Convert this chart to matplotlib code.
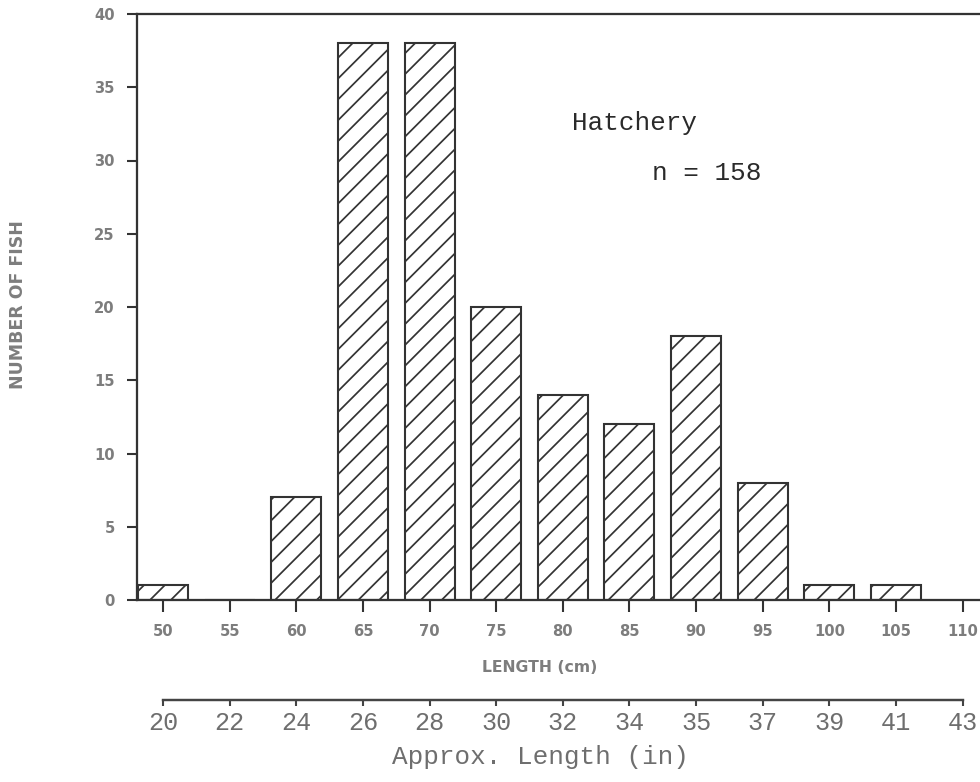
import matplotlib
matplotlib.use('Agg')
import matplotlib.pyplot as plt

# ---- data ----
length_cm = [50, 55, 60, 65, 70, 75, 80, 85, 90, 95, 100, 105]
counts = [1, 0, 7, 38, 38, 20, 14, 12, 18, 8, 1, 1]
cm_ticks = [50, 55, 60, 65, 70, 75, 80, 85, 90, 95, 100, 105, 110]
cm_tick_labels = [str(v) for v in cm_ticks]
inch_labels = ['20', '22', '24', '26', '28', '30', '32', '34', '35', '37', '39', '41', '43']
y_ticks = [0, 5, 10, 15, 20, 25, 30, 35, 40]

# ---- figure geometry (pixels) ----
W, H, DPI = 980, 782, 125
fig = plt.figure(figsize=(W / DPI, H / DPI), dpi=DPI)
plt.rcParams['hatch.linewidth'] = 1.0


def fx(px):
    return px / W


def fy(py):
    return 1 - py / H


AX_L, AX_R, AX_T, AX_B = 137, 980, 14, 600
ax = fig.add_axes([fx(AX_L), fy(AX_B), fx(AX_R) - fx(AX_L), fy(AX_T) - fy(AX_B)])

edge = '#333333'
gray = '#7d7d7d'

ax.bar(length_cm, counts, width=3.75, color='white', edgecolor=edge,
       hatch='//', linewidth=1.2, zorder=2)

ax.set_xlim(48.05, 111.3)
ax.set_ylim(0, 40)
ax.set_xticks(cm_ticks)
ax.set_xticklabels(cm_tick_labels)
ax.set_yticks(y_ticks)

for s in ['left', 'bottom', 'top']:
    ax.spines[s].set_color(edge)
    ax.spines[s].set_linewidth(1.3)
ax.spines['right'].set_visible(False)

ax.tick_params(axis='y', direction='out', length=5.8, width=1.2, color=edge,
               pad=7, labelsize=8.5, labelcolor=gray)
ax.tick_params(axis='x', direction='out', length=6.9, width=1.2, color=edge,
               pad=7, labelsize=8.5, labelcolor=gray)
for lab in ax.get_xticklabels() + ax.get_yticklabels():
    lab.set_fontweight('heavy')
    lab.set_family('DejaVu Sans')

fig.text(fx(18), fy(305), 'NUMBER OF FISH', rotation=90, ha='center', va='center',
         fontsize=10, fontweight='bold', color=gray, family='DejaVu Sans')
fig.text(fx(540), fy(668), 'LENGTH (cm)', ha='center', va='center',
         fontsize=9, fontweight='bold', color=gray, family='DejaVu Sans')

fig.text(fx(634), fy(123), 'Hatchery', ha='center', va='center',
         fontsize=15, color='#2a2a2a', family='Liberation Mono')
fig.text(fx(707), fy(173), 'n = 158', ha='center', va='center',
         fontsize=15, color='#2a2a2a', family='Liberation Mono')

# ---- secondary inch scale ----
ax2 = fig.add_axes([fx(AX_L), fy(700), fx(AX_R) - fx(AX_L), 0.0001])
ax2.set_xlim(ax.get_xlim())
ax2.set_yticks([])
ax2.patch.set_visible(False)
for s in ['top', 'left', 'right']:
    ax2.spines[s].set_visible(False)
ax2.spines['bottom'].set_bounds(cm_ticks[0], cm_ticks[-1])
ax2.spines['bottom'].set_color('#444444')
ax2.spines['bottom'].set_linewidth(1.4)
ax2.set_xticks(cm_ticks)
ax2.set_xticklabels(inch_labels)
ax2.set_xticks([cm_ticks[0], cm_ticks[-1]], minor=True)
ax2.tick_params(axis='x', which='major', direction='out', length=3.5, width=1.2,
                color='#444444', pad=3, labelsize=14.5, labelcolor='#6e6e6e')
ax2.tick_params(axis='x', which='minor', direction='in', length=3.0, width=1.4,
                color='#444444', labelbottom=False)
for lab in ax2.get_xticklabels():
    lab.set_family('Liberation Mono')

fig.text(fx(540), fy(757), 'Approx. Length (in)', ha='center', va='center',
         fontsize=15, color='#6e6e6e', family='Liberation Mono')

fig.savefig('out.png', dpi=DPI)
